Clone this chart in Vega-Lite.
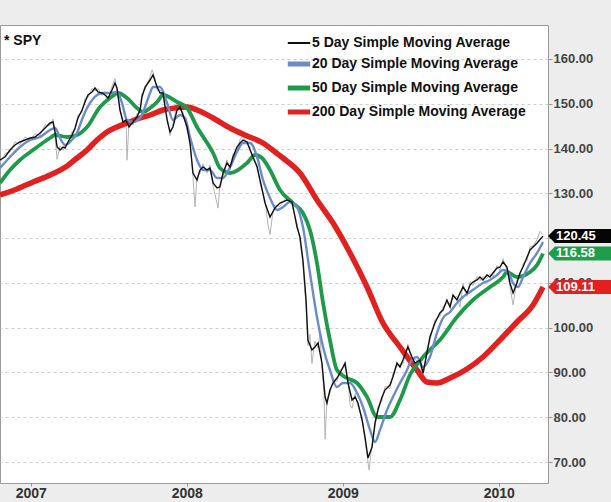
{
  "$schema": "https://vega.github.io/schema/vega-lite/v6.json",
  "width": 548,
  "height": 458,
  "autosize": {"type": "none"},
  "padding": {"left": 0, "top": 25, "right": 63, "bottom": 19},
  "background": "#ededed",
  "config": {
    "view": {"fill": "#ffffff", "stroke": "#9a9a9a", "strokeWidth": 1},
    "font": "Liberation Sans"
  },
  "title": {
    "text": "* SPY",
    "anchor": "start",
    "frame": "group",
    "orient": "top",
    "offset": -37,
    "baseline": "bottom",
    "dx": 4,
    "fontSize": 14,
    "fontWeight": "bold",
    "font": "Liberation Sans",
    "color": "#111111"
  },
  "datasets": {
    "price": [
      {"t":2006.803,"v":136.8},{"t":2006.835,"v":138.9},{"t":2006.867,"v":139.2},{"t":2006.899,"v":141.5},{"t":2006.931,"v":140.9},{"t":2006.964,"v":142.6},{"t":2006.996,"v":141.8},{"t":2007.028,"v":143.3},{"t":2007.06,"v":142.9},{"t":2007.092,"v":145.3},{"t":2007.124,"v":145.2},{"t":2007.143,"v":146.6},{"t":2007.156,"v":142.5},{"t":2007.169,"v":137.6},{"t":2007.188,"v":140.6},{"t":2007.207,"v":139.6},{"t":2007.22,"v":140.9},{"t":2007.239,"v":141.0},{"t":2007.265,"v":143.8},{"t":2007.284,"v":144.0},{"t":2007.303,"v":147.5},{"t":2007.329,"v":148.0},{"t":2007.348,"v":151.2},{"t":2007.367,"v":151.4},{"t":2007.393,"v":153.4},{"t":2007.412,"v":152.9},{"t":2007.431,"v":153.4},{"t":2007.457,"v":151.8},{"t":2007.476,"v":152.7},{"t":2007.496,"v":150.7},{"t":2007.521,"v":153.9},{"t":2007.54,"v":155.6},{"t":2007.553,"v":152.8},{"t":2007.572,"v":149.3},{"t":2007.592,"v":145.3},{"t":2007.611,"v":147.1},{"t":2007.617,"v":137.4},{"t":2007.63,"v":145.6},{"t":2007.656,"v":145.3},{"t":2007.681,"v":147.8},{"t":2007.701,"v":148.0},{"t":2007.713,"v":152.3},{"t":2007.733,"v":153.1},{"t":2007.765,"v":156.0},{"t":2007.778,"v":157.6},{"t":2007.797,"v":155.5},{"t":2007.81,"v":153.0},{"t":2007.829,"v":153.2},{"t":2007.848,"v":151.7},{"t":2007.874,"v":147.1},{"t":2007.893,"v":142.9},{"t":2007.912,"v":145.5},{"t":2007.938,"v":149.9},{"t":2007.957,"v":148.6},{"t":2007.976,"v":148.2},{"t":2008.002,"v":144.0},{"t":2008.021,"v":142.0},{"t":2008.04,"v":133.7},{"t":2008.053,"v":127.0},{"t":2008.066,"v":133.6},{"t":2008.085,"v":134.5},{"t":2008.105,"v":136.6},{"t":2008.13,"v":134.5},{"t":2008.149,"v":136.3},{"t":2008.169,"v":131.6},{"t":2008.201,"v":126.7},{"t":2008.213,"v":132.1},{"t":2008.233,"v":133.8},{"t":2008.258,"v":137.5},{"t":2008.278,"v":135.2},{"t":2008.297,"v":138.8},{"t":2008.322,"v":139.6},{"t":2008.342,"v":142.0},{"t":2008.361,"v":142.9},{"t":2008.387,"v":140.8},{"t":2008.406,"v":140.3},{"t":2008.425,"v":137.4},{"t":2008.451,"v":136.5},{"t":2008.47,"v":132.2},{"t":2008.502,"v":128.5},{"t":2008.521,"v":123.0},{"t":2008.534,"v":120.8},{"t":2008.553,"v":125.9},{"t":2008.566,"v":127.4},{"t":2008.598,"v":127.1},{"t":2008.643,"v":129.3},{"t":2008.675,"v":127.3},{"t":2008.707,"v":123.2},{"t":2008.726,"v":119.5},{"t":2008.745,"v":114.0},{"t":2008.765,"v":104.8},{"t":2008.777,"v":96.0},{"t":2008.79,"v":98.5},{"t":2008.803,"v":92.0},{"t":2008.822,"v":97.0},{"t":2008.842,"v":95.5},{"t":2008.854,"v":98.8},{"t":2008.867,"v":91.0},{"t":2008.88,"v":85.5},{"t":2008.887,"v":75.1},{"t":2008.899,"v":84.0},{"t":2008.918,"v":85.4},{"t":2008.938,"v":88.4},{"t":2008.963,"v":88.0},{"t":2008.983,"v":90.6},{"t":2009.015,"v":91.3},{"t":2009.034,"v":88.5},{"t":2009.047,"v":82.8},{"t":2009.06,"v":82.0},{"t":2009.079,"v":85.3},{"t":2009.098,"v":82.4},{"t":2009.124,"v":80.2},{"t":2009.143,"v":74.8},{"t":2009.169,"v":68.2},{"t":2009.188,"v":74.1},{"t":2009.207,"v":77.9},{"t":2009.226,"v":82.4},{"t":2009.252,"v":83.7},{"t":2009.271,"v":86.9},{"t":2009.303,"v":86.4},{"t":2009.322,"v":89.8},{"t":2009.348,"v":91.3},{"t":2009.367,"v":92.0},{"t":2009.386,"v":91.9},{"t":2009.418,"v":96.3},{"t":2009.444,"v":92.8},{"t":2009.463,"v":93.0},{"t":2009.495,"v":92.0},{"t":2009.515,"v":89.0},{"t":2009.54,"v":95.1},{"t":2009.559,"v":97.1},{"t":2009.591,"v":101.8},{"t":2009.623,"v":102.5},{"t":2009.643,"v":104.7},{"t":2009.668,"v":105.4},{"t":2009.688,"v":105.4},{"t":2009.707,"v":106.5},{"t":2009.732,"v":107.0},{"t":2009.752,"v":104.6},{"t":2009.771,"v":109.8},{"t":2009.797,"v":107.0},{"t":2009.816,"v":110.3},{"t":2009.835,"v":109.4},{"t":2009.861,"v":111.4},{"t":2009.88,"v":110.5},{"t":2009.899,"v":111.4},{"t":2009.925,"v":111.0},{"t":2009.944,"v":112.1},{"t":2009.963,"v":111.4},{"t":2009.989,"v":113.9},{"t":2010.008,"v":112.8},{"t":2010.028,"v":115.4},{"t":2010.053,"v":112.8},{"t":2010.072,"v":109.2},{"t":2010.092,"v":105.1},{"t":2010.117,"v":110.7},{"t":2010.136,"v":111.5},{"t":2010.156,"v":114.3},{"t":2010.182,"v":115.0},{"t":2010.201,"v":118.1},{"t":2010.22,"v":118.2},{"t":2010.246,"v":119.7},{"t":2010.265,"v":121.5},{"t":2010.284,"v":120.8}
    ],
    "sma": [
      {"days":200,"t":2006.803,"v":129.63},{"days":200,"t":2006.912,"v":130.97},{"days":200,"t":2007.015,"v":132.53},{"days":200,"t":2007.124,"v":134.10},{"days":200,"t":2007.233,"v":136.11},{"days":200,"t":2007.297,"v":137.89},{"days":200,"t":2007.361,"v":139.68},{"days":200,"t":2007.425,"v":141.91},{"days":200,"t":2007.489,"v":143.70},{"days":200,"t":2007.553,"v":144.81},{"days":200,"t":2007.617,"v":145.71},{"days":200,"t":2007.701,"v":146.82},{"days":200,"t":2007.765,"v":147.49},{"days":200,"t":2007.848,"v":148.61},{"days":200,"t":2007.925,"v":149.06},{"days":200,"t":2008.002,"v":149.28},{"days":200,"t":2008.066,"v":148.61},{"days":200,"t":2008.169,"v":146.82},{"days":200,"t":2008.278,"v":144.59},{"days":200,"t":2008.387,"v":142.81},{"days":200,"t":2008.489,"v":141.24},{"days":200,"t":2008.566,"v":139.23},{"days":200,"t":2008.617,"v":137.89},{"days":200,"t":2008.726,"v":134.54},{"days":200,"t":2008.835,"v":128.51},{"days":200,"t":2008.938,"v":123.38},{"days":200,"t":2009.047,"v":116.68},{"days":200,"t":2009.156,"v":109.09},{"days":200,"t":2009.258,"v":101.05},{"days":200,"t":2009.367,"v":95.69},{"days":200,"t":2009.476,"v":90.55},{"days":200,"t":2009.54,"v":87.87},{"days":200,"t":2009.604,"v":87.65},{"days":200,"t":2009.688,"v":88.76},{"days":200,"t":2009.797,"v":90.77},{"days":200,"t":2009.899,"v":93.45},{"days":200,"t":2010.008,"v":97.25},{"days":200,"t":2010.117,"v":101.27},{"days":200,"t":2010.22,"v":105.07},{"days":200,"t":2010.284,"v":109.11},
      {"days":50,"t":2006.803,"v":132.31},{"days":50,"t":2006.867,"v":135.21},{"days":50,"t":2006.931,"v":137.45},{"days":50,"t":2007.015,"v":139.68},{"days":50,"t":2007.124,"v":142.36},{"days":50,"t":2007.156,"v":143.03},{"days":50,"t":2007.233,"v":142.58},{"days":50,"t":2007.297,"v":143.03},{"days":50,"t":2007.361,"v":144.81},{"days":50,"t":2007.444,"v":149.28},{"days":50,"t":2007.508,"v":151.29},{"days":50,"t":2007.56,"v":152.41},{"days":50,"t":2007.617,"v":151.29},{"days":50,"t":2007.681,"v":149.06},{"days":50,"t":2007.72,"v":148.17},{"days":50,"t":2007.765,"v":149.06},{"days":50,"t":2007.81,"v":150.40},{"days":50,"t":2007.848,"v":151.96},{"days":50,"t":2007.938,"v":150.40},{"days":50,"t":2008.002,"v":149.06},{"days":50,"t":2008.066,"v":144.81},{"days":50,"t":2008.169,"v":139.01},{"days":50,"t":2008.213,"v":135.66},{"days":50,"t":2008.278,"v":134.54},{"days":50,"t":2008.387,"v":136.78},{"days":50,"t":2008.438,"v":138.56},{"days":50,"t":2008.483,"v":137.89},{"days":50,"t":2008.534,"v":135.21},{"days":50,"t":2008.598,"v":130.75},{"days":50,"t":2008.681,"v":127.84},{"days":50,"t":2008.745,"v":125.61},{"days":50,"t":2008.79,"v":121.81},{"days":50,"t":2008.835,"v":114.44},{"days":50,"t":2008.874,"v":105.51},{"days":50,"t":2008.918,"v":97.25},{"days":50,"t":2008.963,"v":90.55},{"days":50,"t":2009.027,"v":88.76},{"days":50,"t":2009.092,"v":87.65},{"days":50,"t":2009.156,"v":84.52},{"days":50,"t":2009.22,"v":80.06},{"days":50,"t":2009.303,"v":80.06},{"days":50,"t":2009.367,"v":83.85},{"days":50,"t":2009.431,"v":89.43},{"days":50,"t":2009.515,"v":93.45},{"days":50,"t":2009.623,"v":97.25},{"days":50,"t":2009.732,"v":102.39},{"days":50,"t":2009.835,"v":106.18},{"days":50,"t":2009.944,"v":109.09},{"days":50,"t":2010.028,"v":111.32},{"days":50,"t":2010.053,"v":112.43},{"days":50,"t":2010.117,"v":111.32},{"days":50,"t":2010.201,"v":112.43},{"days":50,"t":2010.246,"v":114.00},{"days":50,"t":2010.284,"v":116.58},
      {"days":20,"t":2006.803,"v":135.66},{"days":20,"t":2006.867,"v":138.12},{"days":20,"t":2006.931,"v":140.35},{"days":20,"t":2006.996,"v":141.91},{"days":20,"t":2007.06,"v":142.58},{"days":20,"t":2007.124,"v":144.14},{"days":20,"t":2007.156,"v":144.59},{"days":20,"t":2007.188,"v":142.36},{"days":20,"t":2007.22,"v":140.80},{"days":20,"t":2007.252,"v":141.47},{"days":20,"t":2007.297,"v":143.48},{"days":20,"t":2007.335,"v":147.05},{"days":20,"t":2007.38,"v":150.18},{"days":20,"t":2007.425,"v":151.96},{"days":20,"t":2007.463,"v":152.41},{"days":20,"t":2007.508,"v":152.41},{"days":20,"t":2007.553,"v":152.63},{"days":20,"t":2007.585,"v":150.18},{"days":20,"t":2007.617,"v":146.38},{"days":20,"t":2007.656,"v":145.93},{"days":20,"t":2007.701,"v":146.82},{"days":20,"t":2007.733,"v":149.28},{"days":20,"t":2007.765,"v":152.41},{"days":20,"t":2007.784,"v":153.75},{"days":20,"t":2007.829,"v":153.75},{"days":20,"t":2007.874,"v":150.18},{"days":20,"t":2007.912,"v":146.38},{"days":20,"t":2007.957,"v":147.49},{"days":20,"t":2007.989,"v":146.82},{"days":20,"t":2008.021,"v":142.58},{"days":20,"t":2008.066,"v":137.45},{"days":20,"t":2008.105,"v":135.21},{"days":20,"t":2008.149,"v":135.21},{"days":20,"t":2008.194,"v":133.43},{"days":20,"t":2008.233,"v":133.43},{"days":20,"t":2008.278,"v":135.88},{"days":20,"t":2008.322,"v":139.23},{"days":20,"t":2008.361,"v":141.24},{"days":20,"t":2008.406,"v":141.24},{"days":20,"t":2008.451,"v":138.12},{"days":20,"t":2008.489,"v":132.98},{"days":20,"t":2008.534,"v":128.96},{"days":20,"t":2008.579,"v":126.28},{"days":20,"t":2008.617,"v":126.95},{"days":20,"t":2008.662,"v":128.07},{"days":20,"t":2008.707,"v":126.95},{"days":20,"t":2008.745,"v":122.49},{"days":20,"t":2008.79,"v":112.21},{"days":20,"t":2008.835,"v":102.39},{"days":20,"t":2008.874,"v":95.69},{"days":20,"t":2008.918,"v":90.55},{"days":20,"t":2008.963,"v":86.75},{"days":20,"t":2009.002,"v":87.65},{"days":20,"t":2009.047,"v":87.65},{"days":20,"t":2009.092,"v":85.41},{"days":20,"t":2009.13,"v":82.29},{"days":20,"t":2009.175,"v":77.19},{"days":20,"t":2009.207,"v":74.47},{"days":20,"t":2009.239,"v":77.19},{"days":20,"t":2009.284,"v":81.62},{"days":20,"t":2009.322,"v":84.52},{"days":20,"t":2009.367,"v":87.65},{"days":20,"t":2009.412,"v":90.55},{"days":20,"t":2009.431,"v":92.11},{"days":20,"t":2009.476,"v":93.45},{"days":20,"t":2009.515,"v":91.22},{"days":20,"t":2009.559,"v":93.45},{"days":20,"t":2009.604,"v":98.81},{"days":20,"t":2009.643,"v":102.16},{"days":20,"t":2009.688,"v":103.51},{"days":20,"t":2009.732,"v":105.51},{"days":20,"t":2009.771,"v":106.85},{"days":20,"t":2009.816,"v":107.97},{"days":20,"t":2009.861,"v":109.09},{"days":20,"t":2009.899,"v":109.98},{"days":20,"t":2009.944,"v":110.65},{"days":20,"t":2009.989,"v":111.76},{"days":20,"t":2010.028,"v":112.88},{"days":20,"t":2010.06,"v":112.43},{"days":20,"t":2010.092,"v":109.98},{"days":20,"t":2010.124,"v":109.09},{"days":20,"t":2010.156,"v":111.32},{"days":20,"t":2010.201,"v":114.44},{"days":20,"t":2010.246,"v":116.68},{"days":20,"t":2010.284,"v":119.13},
      {"days":5,"t":2006.803,"v":137.45},{"days":5,"t":2006.835,"v":138.12},{"days":5,"t":2006.867,"v":139.68},{"days":5,"t":2006.899,"v":140.80},{"days":5,"t":2006.931,"v":141.47},{"days":5,"t":2006.964,"v":141.91},{"days":5,"t":2006.996,"v":142.36},{"days":5,"t":2007.028,"v":142.58},{"days":5,"t":2007.06,"v":143.48},{"days":5,"t":2007.092,"v":144.59},{"days":5,"t":2007.124,"v":145.71},{"days":5,"t":2007.143,"v":145.93},{"days":5,"t":2007.156,"v":143.70},{"days":5,"t":2007.169,"v":140.35},{"days":5,"t":2007.188,"v":139.68},{"days":5,"t":2007.207,"v":140.35},{"days":5,"t":2007.22,"v":140.12},{"days":5,"t":2007.239,"v":141.47},{"days":5,"t":2007.265,"v":143.03},{"days":5,"t":2007.284,"v":144.59},{"days":5,"t":2007.303,"v":146.82},{"days":5,"t":2007.329,"v":148.61},{"days":5,"t":2007.348,"v":150.40},{"days":5,"t":2007.367,"v":151.96},{"days":5,"t":2007.393,"v":152.63},{"days":5,"t":2007.412,"v":153.52},{"days":5,"t":2007.431,"v":152.63},{"days":5,"t":2007.457,"v":152.41},{"days":5,"t":2007.476,"v":151.96},{"days":5,"t":2007.496,"v":151.29},{"days":5,"t":2007.521,"v":153.08},{"days":5,"t":2007.54,"v":154.64},{"days":5,"t":2007.553,"v":153.52},{"days":5,"t":2007.572,"v":148.61},{"days":5,"t":2007.592,"v":145.93},{"days":5,"t":2007.611,"v":146.38},{"days":5,"t":2007.63,"v":144.81},{"days":5,"t":2007.656,"v":145.93},{"days":5,"t":2007.681,"v":147.05},{"days":5,"t":2007.701,"v":148.61},{"days":5,"t":2007.713,"v":151.51},{"days":5,"t":2007.733,"v":153.75},{"days":5,"t":2007.765,"v":155.31},{"days":5,"t":2007.784,"v":156.43},{"days":5,"t":2007.81,"v":153.75},{"days":5,"t":2007.829,"v":152.41},{"days":5,"t":2007.848,"v":152.41},{"days":5,"t":2007.874,"v":146.38},{"days":5,"t":2007.893,"v":143.70},{"days":5,"t":2007.912,"v":144.81},{"days":5,"t":2007.938,"v":148.61},{"days":5,"t":2007.957,"v":149.28},{"days":5,"t":2007.976,"v":147.49},{"days":5,"t":2008.002,"v":144.81},{"days":5,"t":2008.021,"v":141.24},{"days":5,"t":2008.04,"v":134.54},{"days":5,"t":2008.066,"v":132.98},{"days":5,"t":2008.085,"v":135.21},{"days":5,"t":2008.105,"v":135.88},{"days":5,"t":2008.13,"v":135.21},{"days":5,"t":2008.149,"v":135.66},{"days":5,"t":2008.169,"v":132.31},{"days":5,"t":2008.194,"v":131.19},{"days":5,"t":2008.213,"v":131.41},{"days":5,"t":2008.233,"v":134.54},{"days":5,"t":2008.258,"v":136.78},{"days":5,"t":2008.278,"v":135.88},{"days":5,"t":2008.297,"v":138.12},{"days":5,"t":2008.322,"v":140.35},{"days":5,"t":2008.342,"v":141.24},{"days":5,"t":2008.361,"v":141.91},{"days":5,"t":2008.387,"v":141.47},{"days":5,"t":2008.406,"v":139.68},{"days":5,"t":2008.425,"v":138.12},{"days":5,"t":2008.451,"v":135.88},{"days":5,"t":2008.47,"v":132.98},{"days":5,"t":2008.502,"v":127.84},{"days":5,"t":2008.534,"v":124.72},{"days":5,"t":2008.566,"v":126.73},{"days":5,"t":2008.598,"v":127.84},{"days":5,"t":2008.643,"v":128.51},{"days":5,"t":2008.675,"v":128.07},{"days":5,"t":2008.707,"v":122.49},{"days":5,"t":2008.726,"v":120.25},{"days":5,"t":2008.745,"v":115.12},{"days":5,"t":2008.765,"v":106.18},{"days":5,"t":2008.777,"v":97.25},{"days":5,"t":2008.803,"v":95.02},{"days":5,"t":2008.822,"v":95.69},{"days":5,"t":2008.842,"v":96.58},{"days":5,"t":2008.867,"v":92.11},{"days":5,"t":2008.887,"v":84.52},{"days":5,"t":2008.899,"v":83.18},{"days":5,"t":2008.918,"v":86.08},{"days":5,"t":2008.938,"v":87.65},{"days":5,"t":2008.963,"v":88.76},{"days":5,"t":2008.983,"v":89.88},{"days":5,"t":2009.015,"v":92.11},{"days":5,"t":2009.034,"v":87.65},{"days":5,"t":2009.06,"v":83.85},{"days":5,"t":2009.079,"v":84.52},{"days":5,"t":2009.098,"v":83.18},{"days":5,"t":2009.124,"v":79.39},{"days":5,"t":2009.143,"v":75.59},{"days":5,"t":2009.162,"v":70.90},{"days":5,"t":2009.188,"v":73.36},{"days":5,"t":2009.207,"v":78.72},{"days":5,"t":2009.226,"v":81.62},{"days":5,"t":2009.252,"v":84.52},{"days":5,"t":2009.271,"v":86.08},{"days":5,"t":2009.303,"v":87.20},{"days":5,"t":2009.322,"v":88.99},{"days":5,"t":2009.348,"v":92.11},{"days":5,"t":2009.367,"v":91.22},{"days":5,"t":2009.386,"v":92.78},{"days":5,"t":2009.418,"v":95.69},{"days":5,"t":2009.444,"v":93.45},{"days":5,"t":2009.463,"v":92.11},{"days":5,"t":2009.495,"v":92.78},{"days":5,"t":2009.515,"v":89.88},{"days":5,"t":2009.54,"v":94.35},{"days":5,"t":2009.559,"v":97.92},{"days":5,"t":2009.591,"v":101.05},{"days":5,"t":2009.623,"v":103.28},{"days":5,"t":2009.643,"v":103.95},{"days":5,"t":2009.668,"v":106.18},{"days":5,"t":2009.688,"v":104.62},{"days":5,"t":2009.707,"v":107.30},{"days":5,"t":2009.732,"v":106.18},{"days":5,"t":2009.752,"v":107.75},{"days":5,"t":2009.771,"v":109.09},{"days":5,"t":2009.797,"v":107.75},{"days":5,"t":2009.816,"v":109.53},{"days":5,"t":2009.835,"v":110.20},{"days":5,"t":2009.861,"v":110.65},{"days":5,"t":2009.88,"v":111.32},{"days":5,"t":2009.899,"v":110.65},{"days":5,"t":2009.925,"v":111.76},{"days":5,"t":2009.944,"v":111.32},{"days":5,"t":2009.963,"v":112.21},{"days":5,"t":2009.989,"v":113.33},{"days":5,"t":2010.008,"v":113.55},{"days":5,"t":2010.028,"v":114.67},{"days":5,"t":2010.053,"v":113.55},{"days":5,"t":2010.072,"v":109.98},{"days":5,"t":2010.092,"v":107.75},{"days":5,"t":2010.117,"v":109.98},{"days":5,"t":2010.136,"v":112.21},{"days":5,"t":2010.156,"v":113.55},{"days":5,"t":2010.182,"v":115.78},{"days":5,"t":2010.201,"v":117.35},{"days":5,"t":2010.246,"v":118.91},{"days":5,"t":2010.284,"v":120.45}
    ],
    "last": [
      {"days":5,"t":2010.284,"v":120.45},
      {"days":50,"t":2010.284,"v":116.58},
      {"days":200,"t":2010.284,"v":109.11}
    ]
  },
  "encoding": {
    "x": {
      "field": "t",
      "type": "quantitative",
      "scale": {"domain": [2006.803, 2010.316], "nice": false, "zero": false},
      "axis": {
        "title": null,
        "values": [2007, 2008, 2009, 2010],
        "format": "d",
        "grid": false,
        "domain": false,
        "tickSize": 3,
        "tickColor": "#999999",
        "labelFont": "Liberation Sans",
        "labelFontSize": 14,
        "labelFontWeight": "bold",
        "labelColor": "#333333",
        "labelPadding": 0,
        "labelFlush": false
      }
    },
    "y": {
      "field": "v",
      "type": "quantitative",
      "scale": {"domain": [65.32, 167.59], "nice": false, "zero": false},
      "axis": {
        "title": null,
        "orient": "right",
        "values": [70, 80, 90, 100, 110, 120, 130, 140, 150, 160],
        "format": ".2f",
        "grid": true,
        "gridDash": [3, 3],
        "gridColor": "#cfcfcf",
        "domain": false,
        "tickSize": 4,
        "tickColor": "#999999",
        "labelFont": "Liberation Sans",
        "labelFontSize": 13,
        "labelFontWeight": "bold",
        "labelColor": "#444444",
        "labelPadding": 1
      }
    }
  },
  "layer": [
    {
      "data": {"name": "price"},
      "mark": {"type": "line", "color": "#b5b5b5", "strokeWidth": 1}
    },
    {
      "data": {"name": "sma"},
      "encoding": {
        "color": {
          "field": "days",
          "type": "ordinal",
          "scale": {"domain": [5, 20, 50, 200], "range": ["#111111", "#6a8cca", "#1f9a4a", "#e2201f"]},
          "legend": {
            "title": null,
            "orient": "none",
            "legendX": 292,
            "legendY": 11,
            "symbolType": "M-2.8,0L2.8,0",
            "symbolSize": 64,
            "symbolStrokeWidth": 5,
            "labelExpr": "datum.label + ' Day Simple Moving Average'",
            "labelFont": "Liberation Sans",
            "labelFontSize": 14,
            "labelFontWeight": "bold",
            "labelColor": "#111111",
            "labelLimit": 400,
            "labelOffset": 6,
            "rowPadding": 4,
            "padding": 0,
            "encode": {
              "symbols": {
                "update": {
                  "strokeWidth": {"signal": "datum.value == 5 ? 2 : 5"}
                }
              }
            }
          }
        }
      },
      "layer": [
        {"transform": [{"filter": "datum.days == 200"}], "mark": {"type": "line", "strokeWidth": 5.5, "interpolate": "monotone"}},
        {"transform": [{"filter": "datum.days == 50"}], "mark": {"type": "line", "strokeWidth": 3.8, "interpolate": "monotone"}},
        {"transform": [{"filter": "datum.days == 20"}], "mark": {"type": "line", "strokeWidth": 2.4, "interpolate": "monotone"}},
        {"transform": [{"filter": "datum.days == 5"}], "mark": {"type": "line", "strokeWidth": 1.4}}
      ]
    },
    {
      "data": {"name": "last"},
      "mark": {"type": "point", "shape": "M5,0L12,-7L70,-7L70,7L12,7Z", "size": 4, "filled": true, "opacity": 1, "strokeWidth": 0},
      "encoding": {
        "fill": {
          "field": "days",
          "type": "ordinal",
          "scale": {"domain": [5, 50, 200], "range": ["#050505", "#1e9e4b", "#e2211f"]},
          "legend": null
        }
      }
    },
    {
      "data": {"name": "last"},
      "mark": {"type": "text", "dx": 13, "align": "left", "baseline": "middle", "color": "#ffffff", "font": "Liberation Sans", "fontSize": 13, "fontWeight": "bold"},
      "encoding": {
        "text": {"field": "v", "type": "quantitative", "format": ".2f"}
      }
    },
    {
      "data": {"values": [{}]},
      "mark": {"type": "text", "align": "left", "baseline": "middle", "color": "#888888", "font": "Liberation Sans", "fontSize": 7},
      "encoding": {
        "x": {"datum": 2006.82, "type": "quantitative"},
        "y": {"datum": 66.9, "type": "quantitative"},
        "text": {"value": "© eSignal, 2023"}
      }
    }
  ]
}
